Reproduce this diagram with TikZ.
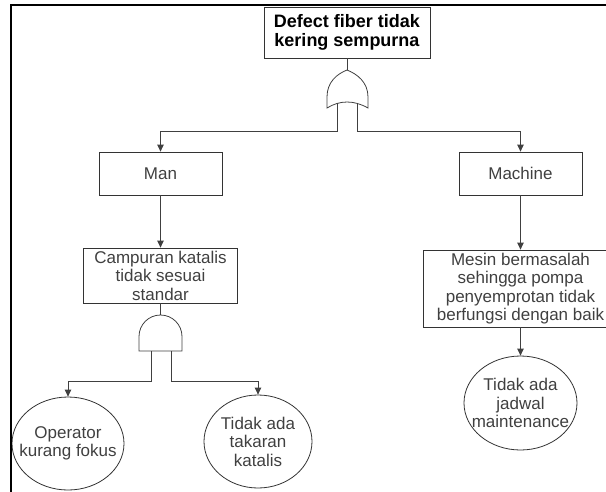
\documentclass[tikz,border=0pt]{standalone}
\usepackage{fontspec}
\setmainfont{Liberation Sans}
\usepackage{tikz}
\usetikzlibrary{arrows.meta,shapes.geometric}
\newcommand\txt{\fontsize{17}{18.5}\selectfont}
\newcommand\ttl{\fontsize{18}{19}\selectfont\bfseries}

\begin{document}
\begin{tikzpicture}[x=1pt,y=-1pt,>={Triangle[length=7pt,width=6.5pt]},line width=0.8pt,
                    every node/.style={text=black!75,align=center,font=\txt}]

  \tikzstyle{event}=[rectangle,draw=black!80,inner sep=0pt]
  \tikzstyle{basic}=[ellipse,draw=black!80,inner sep=0pt]
  \tikzstyle{gate}=[draw=black!75]
  \tikzstyle{wire}=[draw=black!75]

  \useasboundingbox (0,0) rectangle (606,491);

  \node[event,minimum width=166pt,minimum height=51pt,text=black,font=\ttl] (TOP) at (347,32.5) {Defect fiber tidak\\kering sempurna};
  \node[event,minimum width=123pt,minimum height=43pt] (MAN) at (160.5,173.5) {Man};
  \node[event,minimum width=123pt,minimum height=43pt] (MAC) at (520.5,173.5) {Machine};
  \node[event,minimum width=154pt,minimum height=55pt] (CAMP) at (160.5,275.5) {Campuran katalis\\tidak sesuai\\standar};
  \node[event,minimum width=194pt,minimum height=77pt] (MES) at (520.5,288.5) {Mesin bermasalah\\sehingga pompa\\penyemprotan tidak\\berfungsi dengan baik};
  \node[basic,minimum width=112pt,minimum height=93pt,label={center:{Operator\\kurang fokus}}] (OPR) at (68,443.5) {};
  \node[basic,minimum width=108pt,minimum height=93pt,label={center:{Tidak ada\\takaran\\katalis}}] (TAK) at (258,441.5) {};
  \node[basic,minimum width=113pt,minimum height=94pt,label={center:{Tidak ada\\jadwal\\maintenance}}] (JAD) at (520.5,403) {};

  % OR gate
  \draw[gate] (327,108) -- (327,97) .. controls (327,82) and (337,74) .. (347,70)
              .. controls (357,74) and (368,82) .. (368,97) -- (368,108)
              .. controls (354,100) and (340,100) .. cycle;
  \coordinate (ORout) at (347,70);
  \coordinate (ORin1) at (337,103);
  \coordinate (ORin2) at (357,103);

  % AND gate
  \draw[gate] (139,351) -- (139,336.5) arc (180:360:21.5) -- (182,351) -- cycle;
  \coordinate (ANDout) at (160.5,315);
  \coordinate (ANDin1) at (151,351);
  \coordinate (ANDin2) at (171,351);

  \draw[wire] (TOP.south) -- (ORout);
  \draw[wire] (CAMP.south) -- (ANDout);

  \draw[wire,->] (ORin1) -- ++(0,28) -| (MAN.north);
  \draw[wire,->] (ORin2) -- ++(0,28) -| (MAC.north);
  \draw[wire,->] (MAN.south) -- (CAMP.north);
  \draw[wire,->] (ANDin1) -- ++(0,30) -| (OPR.north);
  \draw[wire,->] (ANDin2) -- ++(0,30) -| (TAK.north);
  \draw[wire,->] (MAC.south) -- (MES.north);
  \draw[wire,->] (MES.south) -- (JAD.north);

  \draw[line width=2.5pt,black] (610,5) -- (11,5) -- (11,495);
\end{tikzpicture}
\end{document}
